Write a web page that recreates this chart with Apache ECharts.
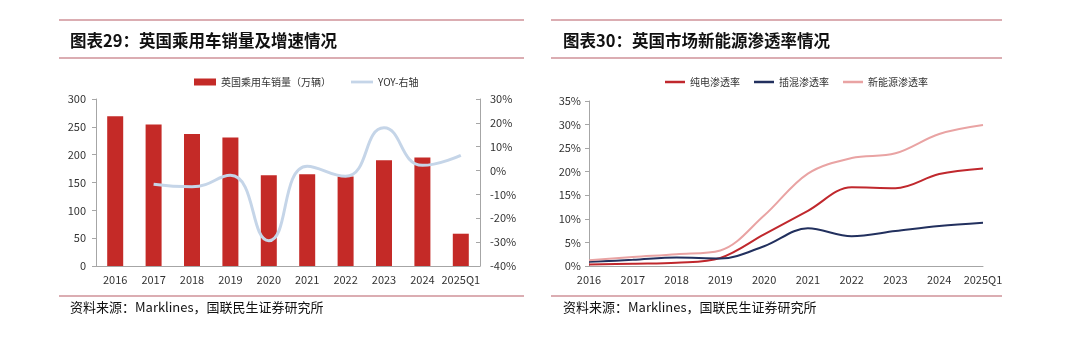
<!DOCTYPE html>
<html>
<head>
<meta charset="utf-8">
<script src="https://cdn.jsdelivr.net/npm/echarts@6/dist/echarts.min.js"></script>
<style>
html,body{margin:0;padding:0;background:#fff;}
#c{width:1080px;height:353px;}
</style>
</head>
<body>
<div id="c"></div>
<script>
const categories = ['2016','2017','2018','2019','2020','2021','2022','2023','2024','2025Q1'];
const salesValues = [269, 254, 237, 231, 163, 165, 161, 190, 195, 58];
const yoyValues = [null, -5.7, -6.8, -2.0, -29.4, 1.8, -2.4, 17.9, 2.2, 6.4];
const bevShare = [0.3, 0.5, 0.7, 1.7, 6.7, 11.7, 16.7, 16.5, 19.5, 20.7];
const phevShare = [0.9, 1.3, 1.8, 1.6, 4.2, 8.0, 6.3, 7.4, 8.5, 9.2];
const nevShare = [1.2, 1.9, 2.5, 3.3, 10.7, 19.6, 22.9, 23.9, 28.0, 29.9];
const leftTicksL = [0, 300, 50];
const title1 = '图表29：英国乘用车销量及增速情况';
const title2 = '图表30：英国市场新能源渗透率情况';
const sourceText = '资料来源：Marklines，国联民生证券研究所';

const chart = echarts.init(document.getElementById('c'));
const ruleColor = '#cf9298';
const font = '"Noto Sans CJK SC", "Noto Sans", sans-serif';
const axisLabel = {color:'#333', fontSize:11, fontFamily:font};
const axisLineStyle = {lineStyle:{color:'#a6a6a6', width:1}};
const lineIcon = 'path://M0,0 L20,0 L20,2.5 L0,2.5 Z';

function rule(x1, x2, y){
  return {type:'line', shape:{x1:x1,y1:y,x2:x2,y2:y}, style:{stroke:ruleColor, lineWidth:1.5}, silent:true};
}
function text(x, y, t, size, weight){
  return {type:'text', x:x, y:y, style:{text:t, fill:'#111', font: (weight||'normal') + ' ' + size + 'px ' + font, textVerticalAlign:'middle'}, silent:true};
}

chart.setOption({
  animation:false,
  textStyle:{fontFamily:font},
  graphic:[
    rule(59,524,20), rule(59,524,58), rule(59,524,296),
    rule(551,1002,20), rule(551,1002,58), rule(551,1002,296),
    text(70,41,title1,16.5,'bold'),
    text(563,41,title2,16.5,'bold'),
    text(70,307,sourceText,13,'normal'),
    text(563,307,sourceText,13,'normal')
  ],
  legend:[
    {left:189, top:72, itemGap:20, itemWidth:22, itemHeight:7,
     textStyle:{fontSize:10, color:'#333'},
     data:[{name:'英国乘用车销量（万辆）', icon:'rect'}, {name:'YOY-右轴', icon:lineIcon, itemStyle:{color:'#c5d5e8'}}]},
    {left:660, top:72, itemGap:14, itemWidth:20, itemHeight:3,
     textStyle:{fontSize:10, color:'#333'},
     data:[{name:'纯电渗透率', icon:lineIcon},{name:'插混渗透率', icon:lineIcon},{name:'新能源渗透率', icon:lineIcon}]}
  ],
  grid:[
    {left:96, right:600, top:99, bottom:87},
    {left:589, right:97, top:101, bottom:87}
  ],
  xAxis:[
    {type:'category', gridIndex:0, data:categories, axisLine:axisLineStyle, axisTick:{show:false},
     axisLabel:Object.assign({margin:8, interval:0}, axisLabel)},
    {type:'category', gridIndex:1, data:categories, boundaryGap:false, axisLine:axisLineStyle, axisTick:{show:false},
     axisLabel:Object.assign({margin:8, interval:0}, axisLabel)}
  ],
  yAxis:[
    {type:'value', gridIndex:0, min:leftTicksL[0], max:leftTicksL[1], interval:leftTicksL[2],
     axisLine:Object.assign({show:true}, axisLineStyle), axisTick:{show:true, length:4, lineStyle:{color:'#a6a6a6'}},
     splitLine:{show:false}, axisLabel:Object.assign({margin:10}, axisLabel)},
    {type:'value', gridIndex:0, position:'right', min:-40, max:30, interval:10,
     axisLine:Object.assign({show:true}, axisLineStyle), axisTick:{show:true, inside:true, length:4, lineStyle:{color:'#a6a6a6'}},
     splitLine:{show:false}, axisLabel:Object.assign({margin:10, formatter:'{value}%'}, axisLabel)},
    {type:'value', gridIndex:1, min:0, max:35, interval:5,
     axisLine:Object.assign({show:true}, axisLineStyle), axisTick:{show:true, length:4, lineStyle:{color:'#a6a6a6'}},
     splitLine:{show:false}, axisLabel:Object.assign({margin:8, formatter:'{value}%'}, axisLabel)}
  ],
  series:[
    {name:'英国乘用车销量（万辆）', type:'bar', xAxisIndex:0, yAxisIndex:0, data:salesValues, barWidth:16,
     itemStyle:{color:'#c42a27'}},
    {name:'YOY-右轴', type:'line', xAxisIndex:0, yAxisIndex:1, data:yoyValues, smooth:0.5, showSymbol:false,
     connectNulls:false, lineStyle:{color:'#c5d5e8', width:3}, itemStyle:{color:'#c5d5e8'}},
    {name:'纯电渗透率', type:'line', xAxisIndex:1, yAxisIndex:2, data:bevShare, smooth:0.35, showSymbol:false,
     lineStyle:{color:'#c0282d', width:2}, itemStyle:{color:'#c0282d'}},
    {name:'插混渗透率', type:'line', xAxisIndex:1, yAxisIndex:2, data:phevShare, smooth:0.35, showSymbol:false,
     lineStyle:{color:'#22305e', width:2}, itemStyle:{color:'#22305e'}},
    {name:'新能源渗透率', type:'line', xAxisIndex:1, yAxisIndex:2, data:nevShare, smooth:0.35, showSymbol:false,
     lineStyle:{color:'#e9a3a3', width:2}, itemStyle:{color:'#e9a3a3'}}
  ]
});
</script>
</body>
</html>
